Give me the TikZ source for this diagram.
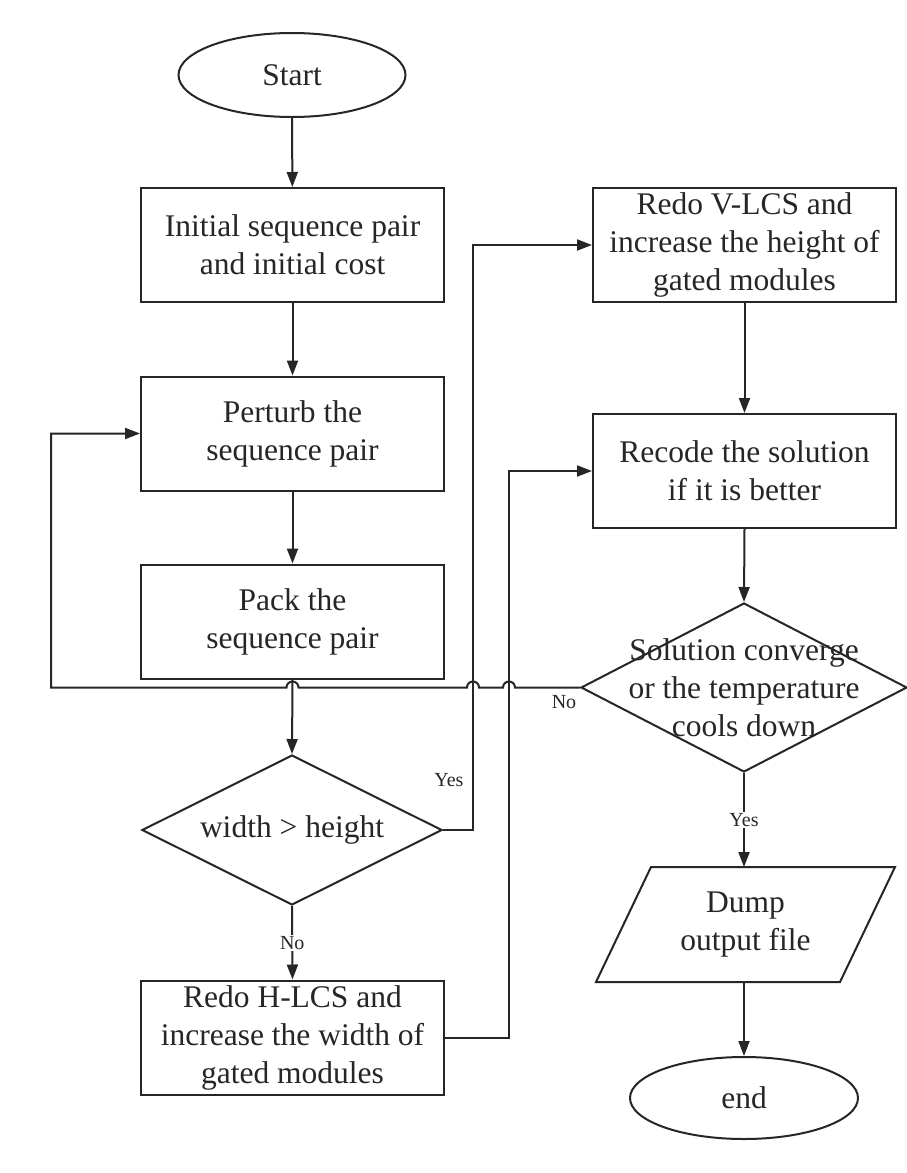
\documentclass[tikz,border=0pt]{standalone}
\usepackage{fontspec}
\setmainfont{Liberation Serif}
\usetikzlibrary{shapes.geometric,arrows.meta,calc}
\begin{document}
\begin{tikzpicture}[x=1pt,y=1pt,
  line width=2pt, draw=black!85,
  every node/.style={font=\fontsize{31.5}{38}\selectfont, text=black!85},
  box/.style={draw, rectangle, minimum width=303pt, minimum height=114pt, align=center, inner sep=0pt},
  term/.style={draw, ellipse, minimum width=227pt, minimum height=84pt, inner sep=0pt},
  decide/.style={draw, diamond, inner sep=0pt},
  txt/.style={align=center, inner sep=0pt},
  lbl/.style={font=\fontsize{20}{24}\selectfont, inner sep=1.5pt},
  arr/.style={-{Triangle[length=15pt,width=11pt]}}
]
\useasboundingbox[fill=white] (0,0) rectangle (907,-1173);

% left column
\node[term] (start) at (292,-75) {Start};
\node[box] (b1) at (292.5,-245) {Initial sequence pair\\and initial cost};
\node[box] (b2) at (292.5,-433.5) {Perturb the\\sequence pair};
\node[box] (b3) at (292.5,-621.5) {Pack the\\sequence pair};
\node[decide, minimum width=300pt, minimum height=150pt] (d1) at (292,-830) {};
\node[txt] (d1t) at (d1) {width > height};
\node[box] (b4) at (292.5,-1037.5) {Redo H-LCS and\\increase the width of\\gated modules};

% right column
\node[box] (b5) at (744.5,-245) {Redo V-LCS and\\increase the height of\\gated modules};
\node[box] (b6) at (744.5,-471) {Recode the solution\\if it is better};
\node[decide, minimum width=326pt, minimum height=169pt] (d2) at (744,-687.5) {};
\node[txt] (d2t) at (d2) {Solution converge\\or the temperature\\cools down};
\node[rectangle, minimum width=297pt, minimum height=113pt, inner sep=0pt, align=center] (p) at (745.5,-924.5) {Dump\\output file};
\draw ([xshift=55pt]p.north west) -- (p.north east) -- ([xshift=-55pt]p.south east) -- (p.south west) -- cycle;
\node[term, minimum width=228pt, minimum height=82pt] (end) at (744,-1098) {end};

% helper columns for routed connectors
\coordinate (lx) at (51,0);
\coordinate (yx) at (473,0);
\coordinate (nx) at (509,0);

% connectors
\draw[arr] (start) -- (b1);
\draw[arr] (b1) -- (b2);
\draw[arr] (b2) -- (b3);
\draw[arr] (b3.south) -- (d1.north);
\draw[arr] (d1.east) -- (yx |- d1.east) -- (yx |- b5.west) -- (b5.west);
\node[lbl, anchor=east] (yes1) at (466,-780) {Yes};
\draw[arr] (d1.south) -- node[lbl, fill=white] (no1) {No} (b4.north);
\draw[arr] (b4.east) -- (nx |- b4.east) -- (nx |- b6.west) -- (b6.west);
\draw[arr] (b5) -- (b6);
\draw[arr] (b6.south) -- (d2.north);
\draw[arr] (d2.south) -- node[lbl, fill=white] (yes2) {Yes} (d2.south |- p.north);
\draw[arr] (d2.south |- p.south) -- (end.north);
\draw[arr] (d2.west)
  -- ($(nx |- d2.west)+(6,0)$) arc[start angle=0,end angle=180,radius=6]
  -- ($(yx |- d2.west)+(6,0)$) arc[start angle=0,end angle=180,radius=6]
  -- ($(b3.south |- d2.west)+(6,0)$) arc[start angle=0,end angle=180,radius=6]
  -- (lx |- d2.west) -- (lx |- b2.west) -- (b2.west);
\node[lbl] (no2) at (564,-702) {No};
\end{tikzpicture}
\end{document}
